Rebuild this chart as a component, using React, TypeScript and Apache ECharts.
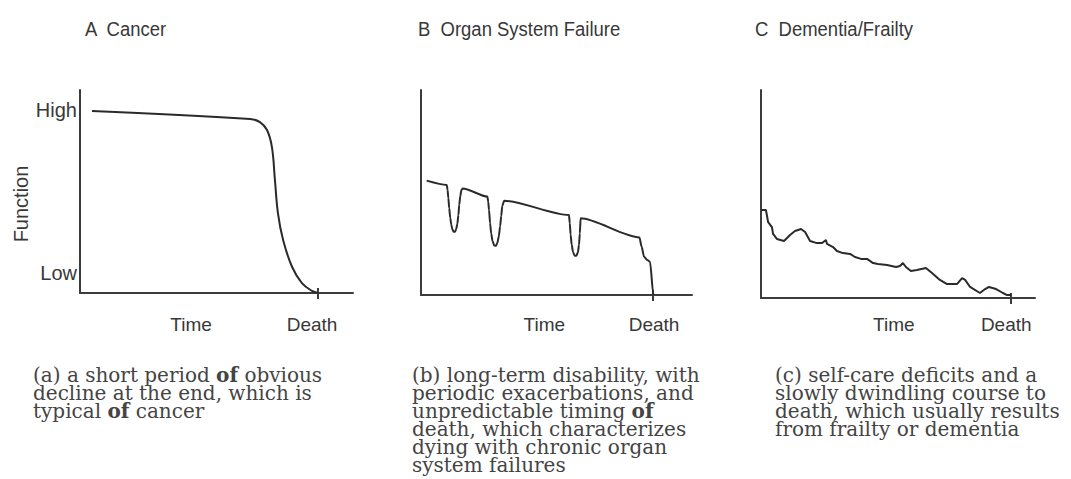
import React, { useEffect, useRef } from "react";
import * as echarts from "echarts";

// ---------- data (time 0-100, function 0-100) ----------
const panelTitles = ["A  Cancer", "B  Organ System Failure", "C  Dementia/Frailty"];
const xTickLabels = ["Time", "Death"];
const yTickLabels = ["High", "Low"];
const yTickValues = [90, 10];
const yAxisName = "Function";

// label positions along the time axis and the death tick, per panel
const cancerLabelPos = [40.7, 85.0];
const organLabelPos = [45.5, 86.0];
const frailtyLabelPos = [48.5, 89.5];
const deathTimes = [87.2, 85.6, 91.2];

const cancerCurve: [number, number][] = [
  [4.4, 89.7], [62.3, 85.7], [65.9, 84.2], [68.5, 80.3], [70.3, 71.9], [71.4, 55.7],
  [72.5, 39.4], [74.4, 26.1], [77.7, 12.8], [81.3, 4.9], [85.0, 1.0], [87.2, 0],
];

const organCurve: [number, number][] = [
  [2.1, 55.8], [9.5, 53.7], [9.8, 51.2], [10.1, 47.3], [10.4, 42.4], [10.8, 37.6],
  [11.2, 34.1], [11.6, 31.9], [12.1, 30.8], [12.6, 30.9], [13.0, 32.2], [13.4, 34.6],
  [13.8, 39.0], [14.1, 43.9], [14.5, 48.3], [14.9, 51.2], [15.4, 52.0],
  [24.5, 48.0], [24.8, 45.5], [25.1, 41.5], [25.5, 35.0], [25.9, 30.0], [26.4, 26.3],
  [27.0, 24.2], [27.6, 24.0], [28.2, 25.5], [28.7, 28.5], [29.2, 33.5], [29.6, 38.5],
  [30.0, 43.5], [30.7, 46.0],
  [54.6, 39.0], [54.9, 35.0], [55.2, 29.5], [55.6, 24.5], [56.1, 21.0], [56.7, 19.2],
  [57.3, 19.1], [57.9, 20.8], [58.3, 24.5], [58.6, 30.0], [58.9, 37.4],
  [80.6, 28.1], [81.4, 23.6], [82.3, 18.7], [83.5, 17.1], [84.5, 16.2], [85.7, 0.8], [85.8, 0],
];

const frailtyCurve: [number, number][] = [
  [0, 42.3], [1.8, 42.3], [2.6, 36.5], [4.0, 34.1], [4.4, 30.8], [5.8, 28.4], [8.4, 27.4],
  [10.6, 30.3], [12.4, 32.2], [14.6, 33.2], [16.1, 31.7], [17.9, 27.4], [20.4, 26.4],
  [22.3, 26.4], [23.7, 27.9], [24.1, 26.0], [26.3, 24.5], [27.7, 22.6], [29.9, 21.6],
  [32.5, 21.2], [34.3, 19.7], [36.5, 18.8], [38.7, 18.8], [40.9, 16.8], [42.7, 16.3],
  [46.0, 15.9], [49.3, 14.9], [50.7, 15.4], [51.8, 16.8], [52.9, 14.9], [54.7, 13.0],
  [56.9, 13.5], [60.2, 14.4], [62.4, 12.0], [65.3, 8.7], [67.9, 6.7], [71.5, 6.7],
  [73.4, 9.6], [74.5, 8.7], [76.3, 5.3], [79.9, 2.4], [81.8, 4.3], [83.2, 5.3],
  [85.8, 4.3], [88.3, 2.4], [89.8, 1.4], [91.2, 1.4],
];

const captionA = ["(a) a short period {b|of} obvious", "decline at the end, which is", "typical {b|of} cancer"];
const captionB = [
  "(b) long-term disability, with",
  "periodic exacerbations, and",
  "unpredictable timing {b|of}",
  "death, which characterizes",
  "dying with chronic organ",
  "system failures",
];
const captionC = [
  "(c) self-care deficits and a",
  "slowly dwindling course to",
  "death, which usually results",
  "from frailty or dementia",
];

// ---------- styling ----------
const SANS = '"Liberation Sans Narrow", "Liberation Sans", Arial, sans-serif';
const SERIF = '"DejaVu Serif", "Liberation Serif", serif';
const AXIS_COLOR = "#3c3c3c";
const LINE_COLOR = "#2a2a2a";
const TEXT_COLOR = "#383838";
const CAPTION_COLOR = "#444444";

const grids = [
  { left: 80, top: 90, width: 273, height: 203 },
  { left: 421, top: 90, width: 271, height: 205 },
  { left: 761, top: 90, width: 274, height: 208 },
];
const labelMargins = [22, 20, 17];
const titlePos = [85, 418, 755];
const captionPos = [33, 412, 775];

export default function App() {
  const ref = useRef<HTMLDivElement>(null);

  useEffect(() => {
    if (!ref.current) return;
    const chart = echarts.init(ref.current, undefined, { renderer: "svg" });
    const labelPositions = [cancerLabelPos, organLabelPos, frailtyLabelPos];
    const curves = [cancerCurve, organCurve, frailtyCurve];
    const captions = [captionA, captionB, captionC];

    const xAxis: any[] = [];
    const yAxis: any[] = [];
    grids.forEach((_, i) => {
      const pos = labelPositions[i];
      xAxis.push({
        type: "value",
        gridIndex: i,
        min: 0,
        max: 100,
        position: "bottom",
        axisLine: { show: true, onZero: false, lineStyle: { color: AXIS_COLOR, width: 2 } },
        splitLine: { show: false },
        axisTick: {
          show: true,
          customValues: [deathTimes[i]],
          length: 6,
          lineStyle: { color: AXIS_COLOR, width: 2 },
        },
        axisLabel: {
          show: true,
          customValues: pos,
          margin: labelMargins[i],
          fontFamily: SANS,
          fontSize: 19,
          color: TEXT_COLOR,
          formatter: (v: number) => {
            const k = pos.findIndex((p) => Math.abs(p - v) < 1e-6);
            return k >= 0 ? xTickLabels[k] : "";
          },
        },
      });
      // inner half of the death tick
      xAxis.push({
        type: "value",
        gridIndex: i,
        min: 0,
        max: 100,
        position: "bottom",
        axisLine: { show: false, onZero: false },
        splitLine: { show: false },
        axisLabel: { show: false },
        axisTick: {
          show: true,
          inside: true,
          customValues: [deathTimes[i]],
          length: 5,
          lineStyle: { color: AXIS_COLOR, width: 2 },
        },
      });
      yAxis.push({
        type: "value",
        gridIndex: i,
        min: 0,
        max: 100,
        axisLine: { show: true, onZero: false, lineStyle: { color: AXIS_COLOR, width: 2 } },
        splitLine: { show: false },
        axisTick: { show: false },
        axisLabel: i === 0
          ? {
              show: true,
              customValues: yTickValues,
              margin: 3,
              fontFamily: SANS,
              fontSize: 20,
              color: TEXT_COLOR,
              formatter: (v: number) => {
                const k = yTickValues.indexOf(v);
                return k >= 0 ? yTickLabels[k] : "";
              },
            }
          : { show: false },
      });
    });

    const series = curves.map((c, i) => ({
      type: "line",
      xAxisIndex: i * 2,
      yAxisIndex: i,
      data: c,
      showSymbol: false,
      smooth: i === 0 ? 0.4 : i === 1 ? 0.25 : false,
      smoothMonotone: i === 1 ? "x" : undefined,
      clip: false,
      lineStyle: { color: LINE_COLOR, width: 2 },
    }));

    const graphic: any[] = [];
    panelTitles.forEach((t, i) => {
      graphic.push({
        type: "text",
        x: titlePos[i],
        y: 29,
        scaleX: 0.88,
        style: {
          text: t,
          fontFamily: SANS,
          fontSize: 21,
          fill: TEXT_COLOR,
          verticalAlign: "middle",
        },
      });
    });
    graphic.push({
      type: "text",
      x: 21,
      y: 204,
      rotation: Math.PI / 2,
      style: {
        text: yAxisName,
        fontFamily: SANS,
        fontSize: 20,
        fill: TEXT_COLOR,
        align: "center",
        verticalAlign: "middle",
      },
    });
    captions.forEach((lines, i) => {
      lines.forEach((line, k) => {
        graphic.push({
          type: "text",
          x: captionPos[i],
          y: 375 + k * 18,
          style: {
            text: line,
            fontFamily: SERIF,
            fontSize: 20,
            fill: CAPTION_COLOR,
            verticalAlign: "middle",
            rich: {
              b: { fontFamily: SERIF, fontSize: 20, fontWeight: "bold", fill: CAPTION_COLOR },
            },
          },
        });
      });
    });

    chart.setOption({
      animation: false,
      backgroundColor: "#ffffff",
      grid: grids.map((g) => ({ ...g, containLabel: false, outerBoundsMode: "none" })),
      xAxis,
      yAxis,
      series,
      graphic,
    });
    return () => chart.dispose();
  }, []);

  return (
    <div
      ref={ref}
      style={{ position: "absolute", left: 0, top: 0, width: 1071, height: 479 }}
    />
  );
}
